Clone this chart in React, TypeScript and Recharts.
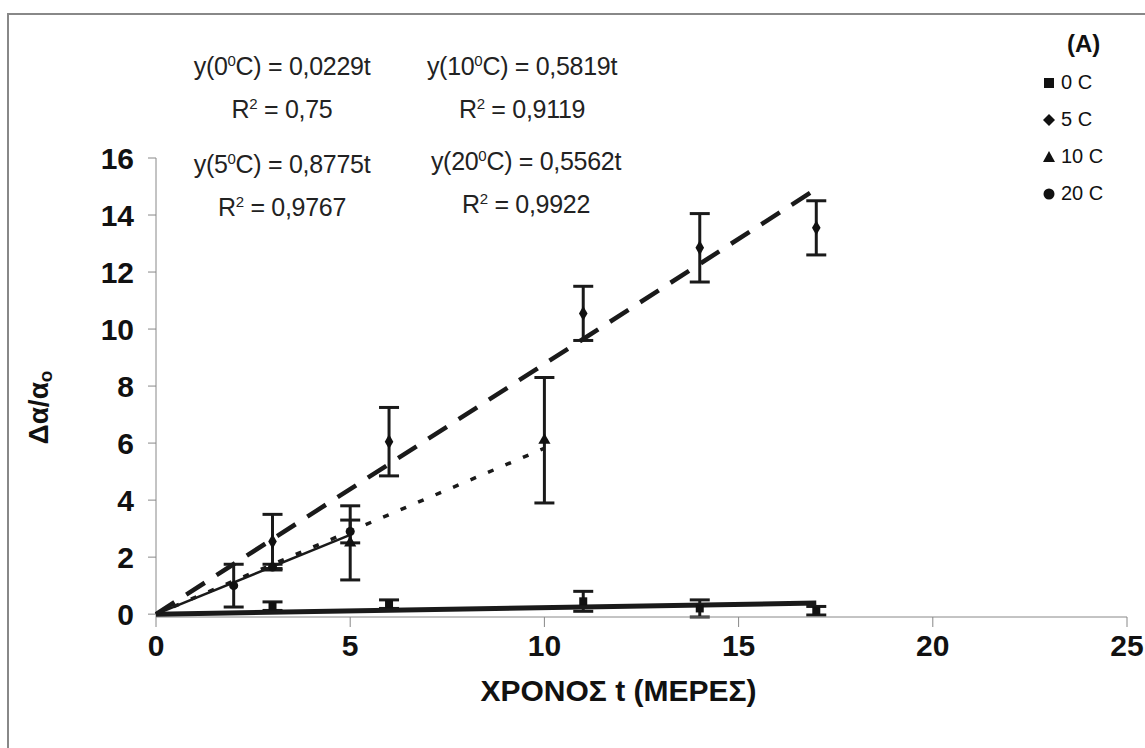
import { ComposedChart, Scatter, XAxis, YAxis, ZAxis, ErrorBar, Label } from "recharts";

// measured points (day, Δα/αo, error)
const T_0C = [3, 6, 11, 14, 17];
const Y_0C = [0.28, 0.35, 0.45, 0.2, 0.12];
const E_0C = [0.15, 0.15, 0.35, 0.3, 0.15];

const T_5C = [3, 6, 11, 14, 17];
const Y_5C = [2.55, 6.05, 10.55, 12.85, 13.55];
const E_5C = [0.95, 1.2, 0.95, 1.2, 0.95];

const T_10C = [5, 10];
const Y_10C = [2.5, 6.1];
const E_10C = [1.3, 2.2];

const T_20C = [2, 3, 5];
const Y_20C = [1.0, 1.65, 2.9];
const E_20C = [0.75, 0.1, 0.4];

// trend lines y = k t (from the labels)
const SLOPES = [0.0229, 0.8775, 0.5819, 0.5562];
const TREND_END = [17, 17, 10, 5];

const X_TICKS = [0, 5, 10, 15, 20, 25];
const Y_TICKS = [0, 2, 4, 6, 8, 10, 12, 14, 16];

const LEGEND = ["0 C", "5 C", "10 C", "20 C"];

const FONT = "Arial, 'Liberation Sans', sans-serif";

const pts = (t: number[], y: number[], e: number[]) =>
  t.map((x, i) => ({ x, y: y[i], err: e[i] }));

const trend = (i: number) => [
  { x: 0, y: 0 },
  { x: TREND_END[i], y: SLOPES[i] * TREND_END[i] },
];

const Nothing = () => <g />;

function YTitle(props: any) {
  const vb = props.viewBox;
  const cx = 38;
  const cy = vb.y + vb.height / 2 + 20;
  return (
    <text
      x={cx}
      y={cy}
      transform={`rotate(-90 ${cx} ${cy})`}
      textAnchor="middle"
      dominantBaseline="central"
      fontFamily={FONT}
      fontWeight="bold"
      fontSize={28}
      fill="#111"
    >
      Δα/α<tspan fontSize={19} dy={7}>o</tspan>
    </text>
  );
}

function XTitle(props: any) {
  const vb = props.viewBox;
  return (
    <text
      x={vb.x + vb.width / 2 - 23}
      y={690}
      textAnchor="middle"
      dominantBaseline="central"
      fontFamily={FONT}
      fontWeight="bold"
      fontSize={30}
      fill="#111"
    >
      ΧΡΟΝΟΣ t (ΜΕΡΕΣ)
    </text>
  );
}

function Eq({ x, y, label, slope, r2 }: { x: number; y: number; label: string; slope: string; r2: string }) {
  return (
    <div style={{ position: "absolute", left: x - 150, top: y, width: 300, textAlign: "center", fontFamily: FONT, fontSize: 25, color: "#222", lineHeight: "38px", letterSpacing: -0.3 }}>
      <div>
        y({label}
        <sup style={{ fontSize: 15, verticalAlign: 9 }}>0</sup>C) = {slope}t
      </div>
      <div>
        R<sup style={{ fontSize: 15, verticalAlign: 9 }}>2</sup> = {r2}
      </div>
    </div>
  );
}

const marker = (i: number) => {
  if (i === 0) return <rect x={1} y={1} width={10} height={10} fill="#111" />;
  if (i === 1) return <polygon points="6,0 12,6 6,12 0,6" fill="#111" />;
  if (i === 2) return <polygon points="6,0 12,11 0,11" fill="#111" />;
  return <circle cx={6} cy={6} r={5.5} fill="#111" />;
};

export default function App() {
  return (
    <div style={{ position: "absolute", left: 0, top: 0, width: 1145, height: 748, background: "#fff", overflow: "hidden" }}>
      <div style={{ position: "absolute", left: 7, top: 13, width: 1200, height: 800, borderLeft: "2px solid #888", borderTop: "2px solid #888" }} />
      <ComposedChart
        width={1145}
        height={748}
        margin={{ top: 158, right: 18, bottom: 51, left: 56 }}
        style={{ position: "absolute", left: 0, top: 0 }}
      >
        <XAxis
          type="number"
          dataKey="x"
          domain={[0, 25]}
          ticks={X_TICKS}
          height={80}
          stroke="#888"
          tickSize={10}
          tickMargin={8}
          tick={{ fontFamily: FONT, fontWeight: "bold", fontSize: 30, fill: "#111" }}
        >
          <Label content={XTitle} />
        </XAxis>
        <YAxis
          type="number"
          dataKey="y"
          domain={[0, 16]}
          ticks={Y_TICKS}
          width={100}
          stroke="#888"
          tickSize={8}
          tickMargin={14}
          tick={{ fontFamily: FONT, fontWeight: "bold", fontSize: 30, fill: "#111" }}
        >
          <Label content={YTitle} />
        </YAxis>
        <ZAxis range={[80, 80]} />

        <Scatter data={trend(0)} shape={Nothing} line={{ stroke: "#1a1a1a", strokeWidth: 5 }} isAnimationActive={false} />
        <Scatter data={trend(1)} shape={Nothing} line={{ stroke: "#1a1a1a", strokeWidth: 4.5, strokeDasharray: "22 14" }} isAnimationActive={false} />
        <Scatter data={trend(2)} shape={Nothing} line={{ stroke: "#1a1a1a", strokeWidth: 3.5, strokeDasharray: "6 13" }} isAnimationActive={false} />
        <Scatter data={trend(3)} shape={Nothing} line={{ stroke: "#1a1a1a", strokeWidth: 2.5 }} isAnimationActive={false} />

        <Scatter data={pts(T_0C, Y_0C, E_0C)} shape="square" fill="#111" isAnimationActive={false}>
          <ErrorBar dataKey="err" direction="y" width={10} stroke="#1a1a1a" strokeWidth={3} />
        </Scatter>
        <Scatter data={pts(T_5C, Y_5C, E_5C)} shape="diamond" fill="#111" isAnimationActive={false}>
          <ErrorBar dataKey="err" direction="y" width={10} stroke="#1a1a1a" strokeWidth={3} />
        </Scatter>
        <Scatter data={pts(T_10C, Y_10C, E_10C)} shape="triangle" fill="#111" isAnimationActive={false}>
          <ErrorBar dataKey="err" direction="y" width={10} stroke="#1a1a1a" strokeWidth={3} />
        </Scatter>
        <Scatter data={pts(T_20C, Y_20C, E_20C)} shape="circle" fill="#111" isAnimationActive={false}>
          <ErrorBar dataKey="err" direction="y" width={10} stroke="#1a1a1a" strokeWidth={3} />
        </Scatter>
      </ComposedChart>

      <Eq x={282} y={42} label="0" slope="0,0229" r2="0,75" />
      <Eq x={522} y={42} label="10" slope="0,5819" r2="0,9119" />
      <Eq x={282} y={140} label="5" slope="0,8775" r2="0,9767" />
      <Eq x={526} y={137} label="20" slope="0,5562" r2="0,9922" />

      <div style={{ position: "absolute", left: 1067, top: 30, fontFamily: FONT, fontWeight: "bold", fontSize: 24, color: "#111" }}>(A)</div>
      {LEGEND.map((name, i) => (
        <div key={name} style={{ position: "absolute", left: 1043, top: 71 + i * 37, display: "flex", alignItems: "center", fontFamily: FONT, fontSize: 20, color: "#111" }}>
          <svg width={12} height={12} style={{ marginRight: 6 }}>
            {marker(i)}
          </svg>
          {name}
        </div>
      ))}
    </div>
  );
}
